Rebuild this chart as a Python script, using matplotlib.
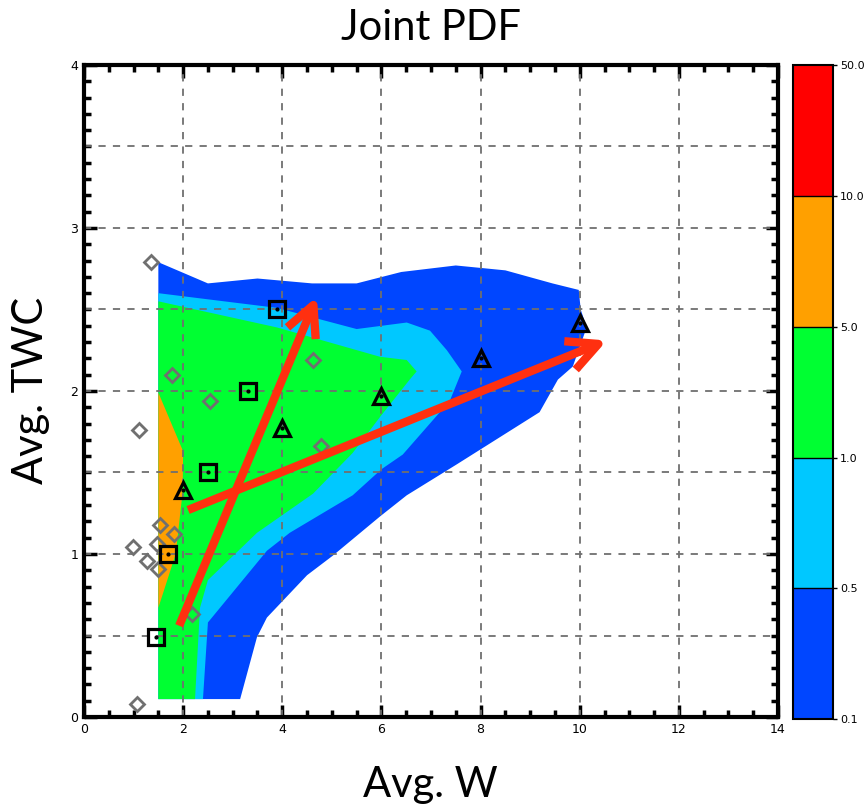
import matplotlib.pyplot as plt
import matplotlib as mpl
from matplotlib.colors import ListedColormap, BoundaryNorm

# filled pdf bands (outlines), drawn bottom to top
band_01_x = [1.5, 2.5, 3.5, 4.6, 5.5, 6.4, 7.5, 8.5, 9.45, 9.98, 10.02, 10.14, 9.86,
             9.56, 9.19, 7.52, 6.51, 5.97, 5.02, 4.5, 3.69, 3.49, 3.15, 1.5]
band_01_y = [2.79, 2.66, 2.69, 2.66, 2.66, 2.73, 2.77, 2.74, 2.66, 2.62, 2.5, 2.39, 2.15,
             2.07, 1.87, 1.55, 1.36, 1.23, 0.99, 0.87, 0.61, 0.49, 0.11, 0.11]

band_05_x = [1.5, 3.89, 5.5, 6.51, 6.98, 7.32, 7.62, 7.38, 6.43, 6.0, 5.42, 4.15, 3.69, 2.5, 2.4, 1.5]
band_05_y = [2.6, 2.51, 2.38, 2.42, 2.37, 2.25, 2.12, 1.94, 1.61, 1.52, 1.36, 1.13, 1.02, 0.58, 0.11, 0.11]

band_1_x = [1.5, 3.89, 5.97, 6.51, 6.71, 6.57, 5.97, 5.42, 4.62, 3.49, 2.5, 2.34, 2.24, 1.5]
band_1_y = [2.55, 2.39, 2.21, 2.19, 2.12, 2.07, 1.84, 1.62, 1.37, 1.13, 0.84, 0.67, 0.11, 0.11]

band_5_x = [1.5, 2.0, 1.99, 1.85, 1.5]
band_5_y = [1.99, 1.63, 1.38, 1.0, 0.67]

# symbols
diam_x = [1.35, 1.11, 1.77, 2.54, 4.62, 4.78, 1.53, 1.81, 0.99, 1.47, 1.27, 1.49, 2.18, 1.07]
diam_y = [2.79, 1.76, 2.10, 1.94, 2.19, 1.66, 1.18, 1.12, 1.04, 1.06, 0.96, 0.91, 0.63, 0.08]
sq_x = [1.45, 1.7, 2.5, 3.3, 3.9]
sq_y = [0.49, 1.0, 1.5, 2.0, 2.5]
tri_x = [2.0, 4.0, 6.0, 8.0, 10.0]
tri_y = [1.39, 1.77, 1.97, 2.2, 2.42]

# trend arrows (tail, head)
arrows = [((1.92, 0.56), (4.70, 2.58)),
          ((2.10, 1.27), (10.55, 2.31))]

cb_levels = [0.1, 0.5, 1.0, 5.0, 10.0, 50.0]
cb_labels = ['0.1', '0.5', '1.0', '5.0', '10.0', '50.0']
band_colors = ['#0046ff', '#00c8ff', '#00ff32', '#ffa000', '#ff0000']

fig = plt.figure(figsize=(8.64, 8.09), dpi=100)
ax = fig.add_axes([0.0972, 0.1137, 0.8033, 0.806])

ax.fill(band_01_x, band_01_y, color=band_colors[0], lw=0, zorder=1)
ax.fill(band_05_x, band_05_y, color=band_colors[1], lw=0, zorder=1.1)
ax.fill(band_1_x, band_1_y, color=band_colors[2], lw=0, zorder=1.2)
ax.fill(band_5_x, band_5_y, color=band_colors[3], lw=0, zorder=1.3)

# dashed grid
for gx in [2, 4, 6, 8, 10, 12]:
    ax.axvline(gx, color='#707070', lw=1.3, ls=(0, (4, 4)), zorder=2)
for gy in [0.5, 1, 1.5, 2, 2.5, 3, 3.5]:
    ax.axhline(gy, color='#707070', lw=1.3, ls=(0, (4, 4)), zorder=2)

ax.plot(diam_x, diam_y, ls='none', marker='D', ms=7.5, mfc='none', mec='#707070', mew=2, zorder=3)
ax.plot(sq_x, sq_y, ls='none', marker='s', ms=11, mfc='none', mec='black', mew=2.3, zorder=3)
ax.plot(sq_x, sq_y, ls='none', marker='o', ms=2, color='black', zorder=3)
ax.plot(tri_x, tri_y, ls='none', marker='^', ms=11, mfc='none', mec='black', mew=2.3, zorder=3)
ax.plot(tri_x, tri_y, ls='none', marker='o', ms=2, color='black', zorder=3)

for tail, head in arrows:
    ax.annotate('', xy=head, xytext=tail, zorder=4,
                arrowprops=dict(arrowstyle='->,head_length=1.1,head_width=0.55',
                                mutation_scale=20, color='#ff3010', lw=6,
                                shrinkA=0, shrinkB=0, capstyle='butt'))

ax.set_xlim(0, 14)
ax.set_ylim(0, 4)
ax.set_xticks(range(0, 15, 2))
ax.set_yticks(range(0, 5))
ax.xaxis.set_minor_locator(mpl.ticker.MultipleLocator(0.5))
ax.yaxis.set_minor_locator(mpl.ticker.MultipleLocator(0.1))
ax.tick_params(which='both', direction='in', top=True, right=True, color='black',
               labelsize=9, pad=4)
ax.tick_params(which='major', length=9, width=2.5)
ax.tick_params(which='minor', length=5, width=2.5)
for sp in ax.spines.values():
    sp.set_linewidth(3)
    sp.set_zorder(5)

# colorbar
cax = fig.add_axes([0.918, 0.111, 0.0463, 0.8087])
cmap = ListedColormap(band_colors)
norm = BoundaryNorm(cb_levels, cmap.N)
cb = fig.colorbar(mpl.cm.ScalarMappable(norm=norm, cmap=cmap), cax=cax,
                  spacing='uniform', ticks=cb_levels)
cb.set_ticklabels(cb_labels)
cb.outline.set_linewidth(1.5)
cax.tick_params(labelsize=8, length=3, width=1, direction='out', pad=2)
for lv in cb_levels[1:-1]:
    cax.axhline(lv, color='black', lw=1)

fig.text(0.499, 0.965, 'Joint PDF', ha='center', va='center', fontsize=30, family='Lato')
fig.text(0.498, 0.03, 'Avg. W', ha='center', va='center', fontsize=30, family='Lato')
fig.text(0.036, 0.518, 'Avg. TWC', ha='center', va='center', fontsize=30, family='Lato',
         rotation=90)

fig.savefig('out.png', dpi=100)
